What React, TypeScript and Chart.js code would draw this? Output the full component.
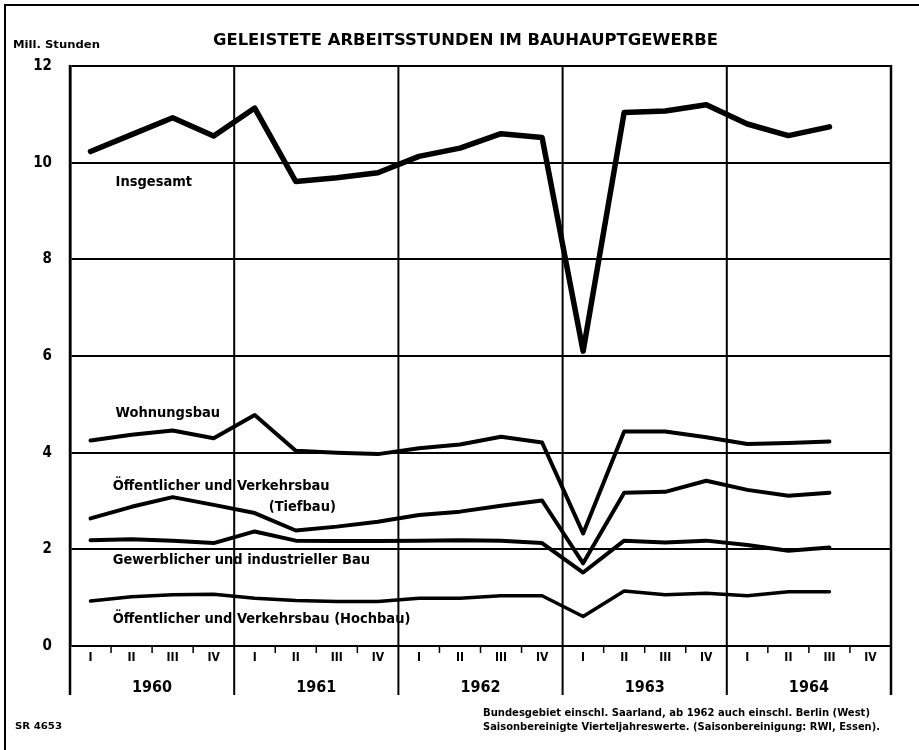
import React, { useEffect, useRef } from 'react';
import { Chart, registerables } from 'chart.js';

Chart.register(...registerables);

const quarters = ['I', 'II', 'III', 'IV'];
const years = ['1960', '1961', '1962', '1963', '1964'];
const categories = years.flatMap((y) => quarters.map((q) => `${q} ${y}`));
const yTicks = [0, 2, 4, 6, 8, 10, 12];

const insgesamt = [10.23, 10.58, 10.93, 10.55, 11.13, 9.61, 9.69, 9.79, 10.13, 10.3, 10.6, 10.52, 6.1, 11.04, 11.07, 11.2, 10.8, 10.56, 10.74, null];
const wohnungsbau = [4.25, 4.37, 4.46, 4.3, 4.78, 4.04, 4.0, 3.97, 4.09, 4.17, 4.33, 4.21, 2.33, 4.44, 4.44, 4.32, 4.18, 4.2, 4.23, null];
const tiefbau = [2.64, 2.88, 3.08, 2.92, 2.75, 2.39, 2.47, 2.57, 2.71, 2.78, 2.9, 3.01, 1.71, 3.17, 3.19, 3.42, 3.23, 3.11, 3.17, null];
const gewerblich = [2.19, 2.21, 2.18, 2.13, 2.37, 2.18, 2.17, 2.17, 2.18, 2.19, 2.18, 2.13, 1.52, 2.18, 2.14, 2.18, 2.09, 1.97, 2.04, null];
const hochbau = [0.93, 1.02, 1.06, 1.07, 0.99, 0.94, 0.92, 0.92, 0.99, 0.99, 1.04, 1.04, 0.61, 1.14, 1.06, 1.09, 1.04, 1.12, 1.12, null];

// in-chart series labels: [text, category position, value]
const seriesLabels: [string, number, number][] = [
  ['Insgesamt', 0.61, 9.59],
  ['Wohnungsbau', 0.61, 4.82],
  ['Öffentlicher und Verkehrsbau', 0.54, 3.31],
  ['(Tiefbau)', 4.34, 2.88],
  ['Gewerblicher und industrieller Bau', 0.54, 1.78],
  ['Öffentlicher und Verkehrsbau (Hochbau)', 0.54, 0.56],
];

const title = 'GELEISTETE ARBEITSSTUNDEN IM BAUHAUPTGEWERBE';
const unitLabel = 'Mill. Stunden';
const footnotes = [
  'Bundesgebiet einschl. Saarland, ab 1962 auch einschl. Berlin (West)',
  'Saisonbereinigte Vierteljahreswerte. (Saisonbereinigung: RWI, Essen).',
];
const sourceCode = 'SR 4653';

const FONT = '"DejaVu Sans Condensed", "DejaVu Sans", sans-serif';

function fitText(ctx: CanvasRenderingContext2D, text: string, x: number, y: number, width: number) {
  const w = ctx.measureText(text).width;
  const s = width / w;
  ctx.save();
  ctx.translate(x, y);
  ctx.scale(s, 1);
  ctx.textAlign = 'left';
  ctx.fillText(text, 0, 0);
  ctx.restore();
}

const decorPlugin = {
  id: 'decor',
  beforeDatasetsDraw(chart: any) {
    const { ctx, chartArea, scales } = chart;
    const x = scales.x;
    const half = (x.getPixelForValue(1) - x.getPixelForValue(0)) / 2;
    ctx.save();
    ctx.strokeStyle = '#000';
    for (let i = 0; i <= years.length; i++) {
      const px = i < years.length ? x.getPixelForValue(i * 4) - half : x.getPixelForValue(categories.length - 1) + half;
      ctx.lineWidth = i === 0 || i === years.length ? 2.5 : 2;
      ctx.beginPath();
      ctx.moveTo(px, chartArea.top - 1);
      ctx.lineTo(px, chartArea.bottom + 49);
      ctx.stroke();
    }
    ctx.lineWidth = 1.5;
    for (let i = 0; i < categories.length; i++) {
      if (i % 4 === 0) continue;
      const px = x.getPixelForValue(i) - half;
      ctx.beginPath();
      ctx.moveTo(px, chartArea.bottom);
      ctx.lineTo(px, chartArea.bottom + 7);
      ctx.stroke();
    }
    ctx.restore();
  },
  afterDraw(chart: any) {
    const { ctx, chartArea, scales } = chart;
    const x = scales.x;
    const y = scales.y;
    ctx.save();
    ctx.fillStyle = '#000';
    ctx.textBaseline = 'middle';
    ctx.font = `bold 12px ${FONT}`;
    ctx.textAlign = 'center';
    categories.forEach((c, i) => {
      ctx.fillText(quarters[i % 4], x.getPixelForValue(i), chartArea.bottom + 12);
    });
    ctx.font = `bold 16px ${FONT}`;
    years.forEach((yr, k) => {
      const cx = (x.getPixelForValue(k * 4 + 1) + x.getPixelForValue(k * 4 + 2)) / 2;
      ctx.fillText(yr, cx, chartArea.bottom + 42);
    });
    ctx.font = `bold 14.5px ${FONT}`;
    ctx.textAlign = 'left';
    seriesLabels.forEach(([t, ci, v]) => {
      ctx.fillText(t, x.getPixelForValue(ci), y.getPixelForValue(v));
    });
    ctx.font = `bold 15px ${FONT}`;
    fitText(ctx, title, 213, 41, 505);
    ctx.font = `bold 11px ${FONT}`;
    fitText(ctx, unitLabel, 13, 45, 87);
    ctx.font = `bold 11px ${FONT}`;
    fitText(ctx, footnotes[0], 483, 713, 387);
    fitText(ctx, footnotes[1], 483, 727, 397);
    ctx.font = `bold 9px ${FONT}`;
    fitText(ctx, sourceCode, 15, 727, 47);
    ctx.strokeStyle = '#000';
    ctx.lineWidth = 2;
    ctx.beginPath();
    ctx.moveTo(5, 750);
    ctx.lineTo(5, 5);
    ctx.lineTo(919, 5);
    ctx.stroke();
    ctx.restore();
  },
};

export default function App() {
  const ref = useRef<HTMLCanvasElement>(null);
  useEffect(() => {
    document.body.style.margin = '0';
    document.body.style.background = '#fff';
    const ds = (label: string, data: (number | null)[], w: number) => ({
      label,
      data,
      borderColor: '#000',
      backgroundColor: '#000',
      borderWidth: w,
      pointRadius: 0,
      tension: 0,
      fill: false,
      borderJoinStyle: 'round' as const,
      borderCapStyle: 'round' as const,
    });
    const chart = new Chart(ref.current!, {
      type: 'line',
      data: {
        labels: categories,
        datasets: [
          ds('Insgesamt', insgesamt, 5.5),
          ds('Wohnungsbau', wohnungsbau, 4),
          ds('Öffentlicher und Verkehrsbau (Tiefbau)', tiefbau, 4),
          ds('Gewerblicher und industrieller Bau', gewerblich, 4),
          ds('Öffentlicher und Verkehrsbau (Hochbau)', hochbau, 3.5),
        ],
      },
      options: {
        animation: false,
        responsive: false,
        devicePixelRatio: 1,
        layout: { padding: { top: 66, bottom: 104, left: 0, right: 28 } },
        plugins: { legend: { display: false }, tooltip: { enabled: false }, title: { display: false } },
        scales: {
          x: {
            type: 'category',
            display: false,
            offset: true,
          },
          y: {
            min: 0,
            max: 12,
            afterFit: (s: any) => { s.width = 70; },
            afterBuildTicks: (s: any) => { s.ticks = yTicks.map((v) => ({ value: v })); },
            ticks: {
              color: '#000',
              padding: 18,
              font: { family: FONT, weight: 'bold', size: 15 },
            },
            grid: { color: '#000', lineWidth: 2, drawTicks: false },
            border: { display: true, color: '#000', width: 2.5 },
          },
        },
      },
      plugins: [decorPlugin],
    });
    return () => chart.destroy();
  }, []);
  return <canvas ref={ref} width={919} height={750} style={{ display: 'block' }} />;
}
